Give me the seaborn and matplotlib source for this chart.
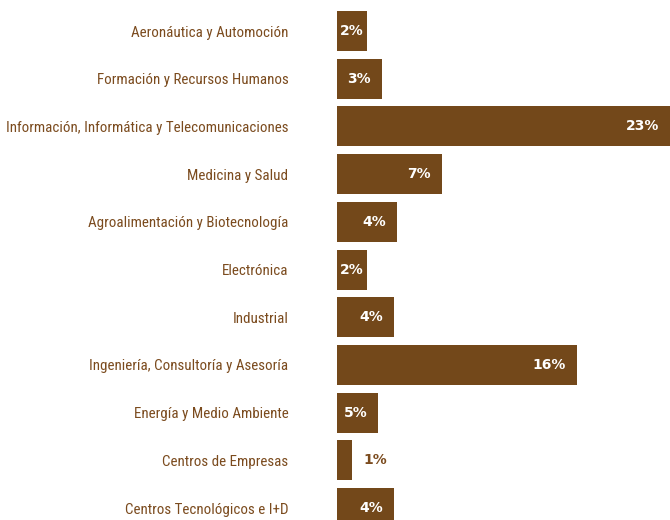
import matplotlib
matplotlib.use('Agg')
import matplotlib.pyplot as plt
import matplotlib.font_manager as fm
import seaborn as sns
import pandas as pd

categories = [
    'Aeronáutica y Automoción',
    'Formación y Recursos Humanos',
    'Información, Informática y Telecomunicaciones',
    'Medicina y Salud',
    'Agroalimentación y Biotecnología',
    'Electrónica',
    'Industrial',
    'Ingeniería, Consultoría y Asesoría',
    'Energía y Medio Ambiente',
    'Centros de Empresas',
    'Centros Tecnológicos e I+D',
]
# bar lengths as drawn in the picture (percent units)
bar_len = [2, 3, 23, 7, 4, 2, 3.8, 16, 2.75, 1, 3.8]
pct_labels = ['2%', '3%', '23%', '7%', '4%', '2%', '4%', '16%', '5%', '1%', '4%']

brown = '#73481a'
text_brown = '#7b4b1e'

sns.set_theme(style='white')
names = {f.name for f in fm.fontManager.ttflist}
label_font = 'DejaVu Sans'
for cand in ['Roboto Condensed', 'PT Sans Narrow', 'Archivo Narrow',
             'Liberation Sans Narrow', 'Pragati Narrow', 'Open Sans Condensed']:
    if cand in names:
        label_font = cand
        break

df = pd.DataFrame({'cat': categories, 'len': bar_len, 'label': pct_labels})

fig = plt.figure(figsize=(6.7, 5.2), dpi=100)
ax = fig.add_axes([337 / 670, 0, 1 - 337 / 670, 1])
sns.barplot(data=df, x='len', y='cat', orient='h', color=brown, saturation=1,
            width=0.84, linewidth=0, ax=ax)
ax.set_xlim(0, 22.2)
ax.set_ylim(10.25, -0.65)
ax.set_xlabel('')
ax.set_ylabel('')
ax.set_xticks([])
for s in ax.spines.values():
    s.set_visible(False)
ax.tick_params(axis='y', length=0, pad=35)

# size the category labels so the longest one is about 280 px wide
renderer = fig.canvas.get_renderer()
probe = fig.text(0, 0, categories[2], family=label_font, fontsize=10)
w = probe.get_window_extent(renderer).width
probe.remove()
size = min(12, 10 * 280 / w)
for t in ax.get_yticklabels():
    t.set_fontfamily(label_font)
    t.set_fontsize(size)
    t.set_color(text_brown)

for i, (v, lab) in enumerate(zip(bar_len, pct_labels)):
    if v <= 1:
        ax.annotate(lab, (v, i), xytext=(8, 0), textcoords='offset points',
                    ha='left', va='center', color=text_brown,
                    fontsize=10, fontweight='bold')
    elif v <= 2:
        ax.text(v / 2, i, lab, ha='center', va='center', color='white',
                fontsize=10, fontweight='bold')
    else:
        x = min(v, 22.2)
        ax.annotate(lab, (x, i), xytext=(-8, 0), textcoords='offset points',
                    ha='right', va='center', color='white',
                    fontsize=10, fontweight='bold')

fig.savefig('out.png', dpi=100)
